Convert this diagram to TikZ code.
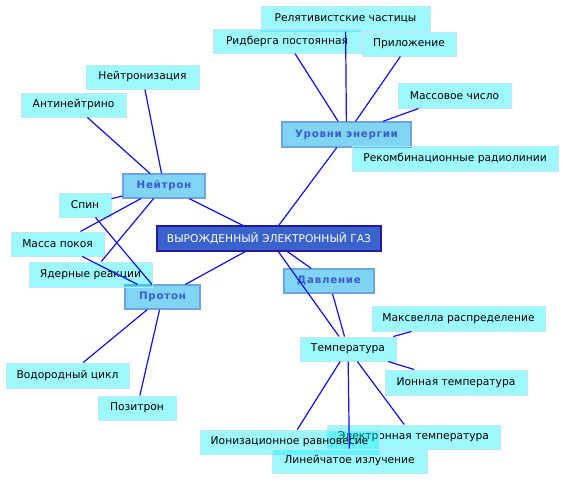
\documentclass[tikz,border=0pt]{standalone}
\usepackage{fontspec}
\setmainfont{DejaVu Sans}
\newfontfamily\boldspaced[LetterSpace=7]{DejaVu Sans Bold}
\definecolor{leaffill}{RGB}{0,238,248}
\definecolor{leafborder}{RGB}{196,226,250}
\definecolor{mainfill}{RGB}{128,212,244}
\definecolor{mainborder}{RGB}{110,164,228}
\definecolor{maintext}{RGB}{60,92,204}
\definecolor{centerfill}{RGB}{58,98,204}
\definecolor{centerborder}{RGB}{40,26,160}
\definecolor{linkcol}{RGB}{16,16,240}
\tikzset{
  leaf/.style={draw=leafborder, line width=1pt, fill=leaffill, fill opacity=0.38, text opacity=1, inner sep=0pt, font=\fontsize{10.7}{12}\selectfont, text=black},
  mainbox/.style={draw=mainborder, line width=1.2pt, fill=mainfill, inner sep=0pt, font=\boldspaced\fontsize{10.3}{12}\selectfont, text=maintext},
  centerbox/.style={draw=centerborder, line width=1.2pt, fill=centerfill, inner sep=0pt, font=\fontsize{10.7}{12}\selectfont, text=white},
  link/.style={draw=linkcol, line width=1.2pt},
  sz/.style 2 args={minimum width=#1pt, minimum height=#2pt}
}
\begin{document}
\begin{tikzpicture}[x=1pt,y=-1pt]
\useasboundingbox (0,0) rectangle (564,480);
% main nodes
\node[centerbox, sz={224}{25}] (gas) at (269,238.5) {ВЫРОЖДЕННЫЙ ЭЛЕКТРОННЫЙ ГАЗ};
\node[mainbox, sz={129}{25}] (urov) at (346.5,134.5) {Уровни энергии};
\node[mainbox, sz={82}{24}] (neut) at (164,186) {Нейтрон};
\node[mainbox, sz={75}{24}] (prot) at (162.5,297) {Протон};
\node[mainbox, sz={90}{24}] (davl) at (329,281) {Давление};
% leaves
\node[leaf, sz={169}{25}] (relat) at (345.5,18.5) {Релятивистские частицы};
\node[leaf, sz={148}{24}] (ridb) at (287,41) {Ридберга постоянная};
\node[leaf, sz={94}{24}] (pril) at (409,44) {Приложение};
\node[leaf, sz={113}{25}] (mass) at (454.5,95.5) {Массовое число};
\node[leaf, sz={206}{25}] (rekomb) at (455,158.5) {Рекомбинационные радиолинии};
\node[leaf, sz={113}{24}] (neutr) at (142.5,77) {Нейтронизация};
\node[leaf, sz={105}{24}] (anti) at (73.5,105) {Антинейтрино};
\node[leaf, sz={52}{24}] (spin) at (85,205) {Спин};
\node[leaf, sz={93}{24}] (massa) at (57.5,244) {Масса покоя};
\node[leaf, sz={123}{25}] (yader) at (90.5,274.5) {Ядерные реакции};
\node[leaf, sz={123}{25}] (vodor) at (67.5,375.5) {Водородный цикл};
\node[leaf, sz={78}{24}] (pozit) at (137,408) {Позитрон};
\node[leaf, sz={173}{25}] (maxw) at (458.5,318.5) {Максвелла распределение};
\node[leaf, sz={96}{24}] (temp) at (348,349) {Температура};
\node[leaf, sz={142}{25}] (ion) at (456,382.5) {Ионная температура};
\node[leaf, sz={173}{24}] (elek) at (413.5,437) {Электронная температура};
\node[leaf, sz={179}{24}] (ioniz) at (289.5,442) {Ионизационное равновесие};
\node[leaf, sz={155}{24}] (linei) at (349.5,461) {Линейчатое излучение};
% links
\draw[link] (gas) -- (urov);
\draw[link] (gas) -- (neut);
\draw[link] (gas) -- (prot);
\draw[link] (gas) -- (davl);
\draw[link] (gas) -- (temp);
\draw[link] (urov) -- (ridb);
\draw[link] (urov) -- (relat);
\draw[link] (urov) -- (pril);
\draw[link] (urov) -- (mass);
\draw[link] (neut) -- (neutr);
\draw[link] (neut) -- (anti);
\draw[link] (neut) -- (spin);
\draw[link] (neut) -- (massa);
\draw[link] (neut) -- (yader);
\draw[link] (prot) -- (spin);
\draw[link] (prot) -- (massa);
\draw[link] (prot) -- (vodor);
\draw[link] (prot) -- (pozit);
\draw[link] (davl) -- (temp);
\draw[link] (temp) -- (maxw);
\draw[link] (temp) -- (ion);
\draw[link] (temp) -- (elek);
\draw[link] (temp) -- (ioniz);
\draw[link] (temp) -- (linei);
\end{tikzpicture}
\end{document}
